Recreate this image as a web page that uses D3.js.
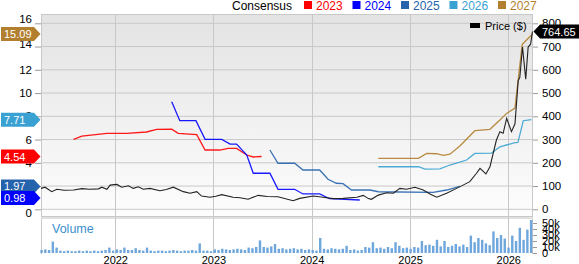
<!DOCTYPE html>
<html>
<head>
<meta charset="utf-8">
<script src="https://cdn.jsdelivr.net/npm/d3@7"></script>
<style>
body { margin: 0; background: #fff; }
svg { display: block; font-family: "Liberation Sans", Arial, sans-serif; }
</style>
</head>
<body>
<div class="canva"></div>
<script>
const width = 579
const height = 264

// price ($), weekly-ish readings
const priceDates = ["2021-03-31","2021-04-15","2021-05-10","2021-05-29","2021-06-25","2021-07-30","2021-08-30","2021-09-28","2021-10-31","2021-11-12","2021-12-01","2021-12-13","2022-01-07","2022-01-25","2022-02-19","2022-03-09","2022-03-28","2022-04-15","2022-05-10","2022-06-16","2022-07-10","2022-08-05","2022-09-11","2022-10-06","2022-10-31","2022-11-18","2022-12-19","2023-01-10","2023-02-01","2023-03-15","2023-04-10","2023-05-10","2023-06-16","2023-07-20","2023-08-29","2023-10-24","2023-11-18","2024-01-07","2024-02-13","2024-03-21","2024-04-27","2024-06-17","2024-07-11","2024-07-30","2024-08-10","2024-09-05","2024-10-06","2024-10-31","2024-11-24","2024-12-19","2025-01-19","2025-02-19","2025-03-16","2025-04-10","2025-05-17","2025-06-23","2025-07-17","2025-08-11","2025-09-05","2025-09-18","2025-10-10","2025-10-25","2025-11-06","2025-11-18","2025-12-01","2025-12-13","2025-12-26","2026-01-13","2026-01-26","2026-02-07","2026-02-13","2026-02-23","2026-03-07","2026-03-16","2026-03-25","2026-04-01"]
const priceValues = [90,95,76,86,82,83,89,86,88,95,86,104,107,95,101,90,97,86,90,80,85,95,76,69,76,57,52,56,63,52,50,43,60,55,54,37,47,57,52,46,47,52,60,46,43,61,71,69,90,86,95,83,66,52,69,90,104,119,155,176,152,183,241,298,334,327,391,334,368,553,567,698,560,698,710,764.65]

// consensus EPS estimates
const est2023Dates = ["2021-07-30","2021-08-30","2021-12-01","2022-02-13","2022-04-27","2022-06-04","2022-07-30","2022-08-23","2022-10-31","2022-12-01","2023-01-25","2023-02-25","2023-03-28","2023-05-05","2023-05-29","2023-06-29"]
const est2023Values = [6.02,6.3,6.53,6.53,6.65,6.88,6.9,6.53,6.42,5.1,5.1,5.24,5.24,4.67,4.5,4.54]
const est2024Dates = ["2022-07-30","2022-08-29","2022-10-28","2022-12-01","2023-02-01","2023-03-04","2023-03-28","2023-05-05","2023-05-29","2023-07-30","2023-08-29","2023-10-30","2023-11-30","2024-01-31","2024-03-08","2024-06-28"]
const est2024Values = [9.25,7.62,7.62,6.02,6.02,5.61,5.61,4.67,3.1,3.1,1.72,1.72,1.32,1.32,0.91,0.8]
const est2025Dates = ["2023-07-30","2023-08-29","2023-10-30","2023-11-30","2024-01-31","2024-03-02","2024-04-02","2024-04-27","2024-05-28","2024-08-05","2024-09-05","2025-03-28","2025-05-17","2025-07-05"]
const est2025Values = [5.1,3.96,3.96,3.38,3.38,2.58,2.24,2.2,1.66,1.66,1.51,1.46,1.66,1.97]
const est2026Dates = ["2024-09-05","2025-02-01","2025-02-26","2025-04-22","2025-05-29","2025-07-30","2025-08-30","2025-10-31","2025-12-01","2026-01-26","2026-02-06","2026-02-26","2026-03-28"]
const est2026Values = [3.66,3.66,3.45,3.48,3.81,4.24,4.81,4.84,5.38,5.73,5.75,7.62,7.71]
const est2027Dates = ["2024-09-05","2025-02-01","2025-03-04","2025-04-10","2025-05-04","2025-05-29","2025-07-05","2025-08-30","2025-10-25","2025-12-01","2025-12-26","2026-01-26","2026-02-22","2026-03-25","2026-04-01"]
const est2027Values = [4.38,4.38,4.81,4.78,4.64,4.74,5.44,6.76,6.88,7.68,8.25,8.7,14.2,14.9,15.09]

// volume (thousands), one bar per two weeks from volStart
const volStart = "2021-04-02"
const volValues = [5,6,5,19,9,4,3,4,3,3,4,3,4,3,4,3,4,5,9,4,6,5,9,5,5,8,5,4,9,4,3,4,4,3,4,5,4,3,4,4,5,4,16,4,4,3,6,5,7,6,5,6,7,6,5,9,8,10,21,10,9,11,15,7,8,6,7,8,6,7,5,6,5,4,25,7,6,8,7,6,7,12,5,6,4,5,10,9,18,8,9,7,10,8,18,12,8,9,7,10,9,20,13,14,12,22,11,20,10,12,15,11,14,10,29,18,25,22,16,13,36,25,30,24,9,29,20,42,22,39,55]

const years = ["2023","2024","2025","2026","2027"]
const yearColors = ["#ff0000","#0000ff","#2563ad","#3aa2d2","#b27f2f"]
const leftTicks = [0,2,4,6,8,10,12,14,16]
const rightTicks = [0,100,200,300,400,500,600,700,800]
const volTicks = [0,10,20,30,40,50]
const lastLabels = [15.09, 7.71, 4.54, 1.97, 0.98]
const lastLabelColors = ["#b27f2f","#3aa2d2","#ff0000","#2563ad","#0000ff"]
const lastPrice = 764.65

const parse = d3.timeParse("%Y-%m-%d")
const plotLeft = 41, plotRight = 533, plotTop = 14, priceBottom = 216, volTop = 219, volBottom = 254

const x = d3.scaleTime().domain([parse("2021-03-31"), parse("2026-04-03")]).range([plotLeft, plotRight])
const yL = d3.scaleLinear().domain([0, 16]).range([209.3, 23.3])
const yR = d3.scaleLinear().domain([0, 800]).range([209.3, 23.3])
const yV = d3.scaleLinear().domain([0, 50]).range([253, 223])

const svg = d3.select(".canva").append("svg").attr("width", width).attr("height", height)

//background gradient
const defs = svg.append("defs")
const grad = defs.append("linearGradient").attr("id", "bg").attr("x1", 0).attr("x2", 0).attr("y1", 0).attr("y2", 1)
grad.append("stop").attr("offset", "0%").attr("stop-color", "#e3e3e3")
grad.append("stop").attr("offset", "100%").attr("stop-color", "#fdfdfd")
defs.append("clipPath").attr("id", "clip").append("rect")
  .attr("x", plotLeft).attr("y", plotTop).attr("width", plotRight - plotLeft).attr("height", priceBottom - plotTop)

svg.append("rect").attr("x", plotLeft).attr("y", plotTop).attr("width", plotRight - plotLeft).attr("height", priceBottom - plotTop).attr("fill", "url(#bg)")
svg.append("rect").attr("x", plotLeft).attr("y", priceBottom).attr("width", plotRight - plotLeft).attr("height", volTop - priceBottom).attr("fill", "#e0e0e0")

//grid
const yearTicks = x.ticks(d3.timeYear.every(1))
svg.append("g").selectAll("line").data(leftTicks).enter().append("line")
  .attr("x1", plotLeft).attr("x2", plotRight).attr("y1", d => yL(d)).attr("y2", d => yL(d))
  .attr("stroke", "#c8c8c8")
svg.append("g").selectAll("line").data(yearTicks).enter().append("line")
  .attr("x1", d => Math.round(x(d)) + 0.5).attr("x2", d => Math.round(x(d)) + 0.5)
  .attr("y1", plotTop).attr("y2", volBottom).attr("stroke", "#c8c8c8")
svg.append("rect").attr("x", plotLeft + 0.5).attr("y", plotTop + 0.5).attr("width", plotRight - plotLeft - 1).attr("height", priceBottom - plotTop)
  .attr("fill", "none").attr("stroke", "#c8c8c8")
svg.append("line").attr("x1", plotLeft + 0.5).attr("x2", plotLeft + 0.5).attr("y1", volTop).attr("y2", volBottom).attr("stroke", "#c8c8c8")
svg.append("line").attr("x1", plotRight - 0.5).attr("x2", plotRight - 0.5).attr("y1", volTop).attr("y2", volBottom).attr("stroke", "#c8c8c8")

//volume
const volData = volValues.map((v, i) => ({ date: d3.timeWeek.offset(parse(volStart), i * 2), value: v }))
svg.append("g").selectAll("rect").data(volData).enter().append("rect")
  .attr("x", d => x(d.date) - 1.2).attr("width", 2.4)
  .attr("y", d => yV(d.value)).attr("height", d => yV(0) - yV(d.value))
  .attr("fill", "#6fa7dc")
svg.append("text").attr("x", 52).attr("y", 233).attr("fill", "#3b8fd0").attr("font-size", 12.5).text("Volume")

//consensus lines
const line = d3.line().x(d => x(d.date)).y(d => yL(d.value))
const estDates = [est2023Dates, est2024Dates, est2025Dates, est2026Dates, est2027Dates]
const estValues = [est2023Values, est2024Values, est2025Values, est2026Values, est2027Values]
const plot = svg.append("g").attr("clip-path", "url(#clip)")
years.forEach(function (yr, k) {
  const pts = estDates[k].map((d, i) => ({ date: parse(d), value: estValues[k][i] }))
  plot.append("path").datum(pts).attr("d", line)
    .attr("fill", "none").attr("stroke", yearColors[k]).attr("stroke-width", 1.3).attr("stroke-opacity", 0.9)
})

//price
const pricePts = priceDates.map((d, i) => ({ date: parse(d), value: priceValues[i] }))
plot.append("path").datum(pricePts)
  .attr("d", d3.line().x(d => x(d.date)).y(d => yR(d.value)))
  .attr("fill", "none").attr("stroke", "#222").attr("stroke-width", 1.1)

//axes
const axL = svg.append("g").attr("transform", `translate(${plotLeft},0)`)
  .call(d3.axisLeft(yL).tickValues(leftTicks).tickSize(6).tickPadding(3))
const axR = svg.append("g").attr("transform", `translate(${plotRight},0)`)
  .call(d3.axisRight(yR).tickValues(rightTicks).tickSize(5).tickPadding(4))
const axV = svg.append("g").attr("transform", `translate(${plotRight},0)`)
  .call(d3.axisRight(yV).tickValues(volTicks).tickSize(4).tickPadding(5).tickFormat(d => d ? d + "k" : "0"))
const axX = svg.append("g").attr("transform", `translate(0,${volBottom})`)
  .call(d3.axisBottom(x).tickValues(yearTicks).tickSize(0).tickPadding(2).tickFormat(d3.timeFormat("%Y")))
;[axL, axR, axV, axX].forEach(function (g) {
  g.select(".domain").remove()
  g.selectAll("line").attr("stroke", "#999")
  g.selectAll("text").attr("font-size", 11).attr("fill", "#000").attr("font-family", "Liberation Sans, Arial, sans-serif")
})
axL.selectAll("text").attr("font-size", 11.5).attr("dy", d => d == 16 ? "-0.1em" : d == 14 ? "0.1em" : d == 0 ? "0.6em" : "0.32em")
axR.selectAll("text").attr("font-size", 11.5)

//end-value tags
const tags = svg.append("g")
lastLabels.forEach(function (v, i) {
  const yy = yL(v)
  tags.append("path").attr("d", `M1,${yy - 7}H34L40.5,${yy}L34,${yy + 7}H1Z`).attr("fill", lastLabelColors[i])
  tags.append("text").attr("x", 4).attr("y", yy + 4).attr("fill", "#fff").attr("font-size", 11).text(v.toFixed(2))
})
const py = yR(lastPrice)
tags.append("path").attr("d", `M533.5,${py}L540,${py - 7}H579V${py + 7}H540Z`).attr("fill", "#000")
tags.append("text").attr("x", 542).attr("y", py + 4).attr("fill", "#fff").attr("font-size", 11).text(lastPrice.toFixed(2))

//legend
const legend = svg.append("g")
legend.append("text").attr("x", 232).attr("y", 10).attr("font-size", 12).attr("fill", "#000").text("Consensus")
years.forEach(function (yr, k) {
  const lx = 304 + k * 48.5
  legend.append("rect").attr("x", lx).attr("y", 1).attr("width", 8).attr("height", 8).attr("fill", yearColors[k])
  legend.append("text").attr("x", lx + 12).attr("y", 10).attr("font-size", 12).attr("fill", yearColors[k]).text(yr)
})
legend.append("rect").attr("x", 470).attr("y", 23).attr("width", 10).attr("height", 5).attr("fill", "#000")
legend.append("text").attr("x", 485).attr("y", 30).attr("font-size", 11).attr("fill", "#000").text("Price ($)")
</script>
</body>
</html>
